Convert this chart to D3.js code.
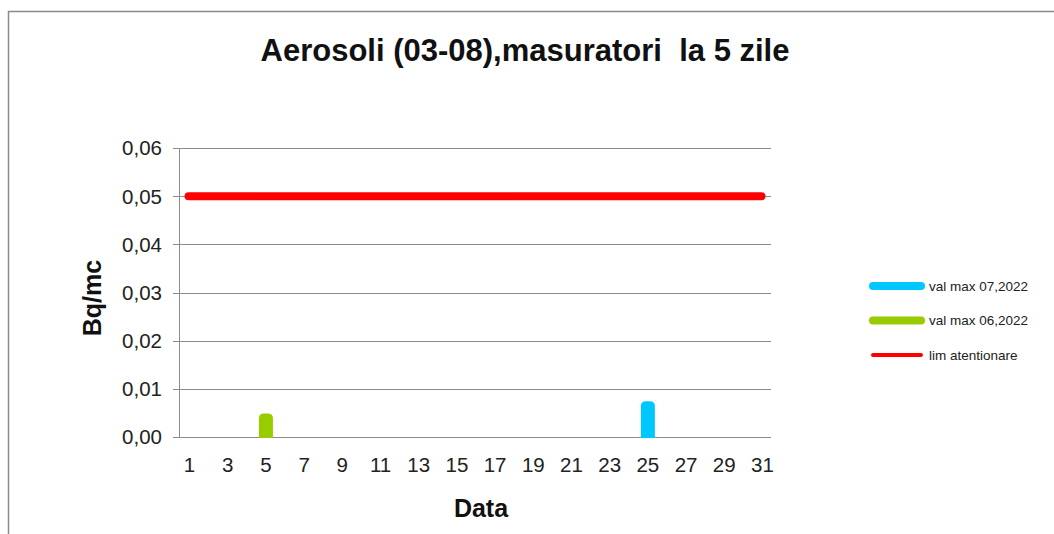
<!DOCTYPE html>
<html>
<head>
<meta charset="utf-8">
<script src="https://cdn.jsdelivr.net/npm/d3@7"></script>
<style>
  body { margin: 0; background: #fff; }
  svg { font-family: "Liberation Sans", Arial, sans-serif; }
</style>
</head>
<body>
<div id="chart"></div>
<script>
// data
const days = d3.range(1, 32);
const yTicks = [0, 0.01, 0.02, 0.03, 0.04, 0.05, 0.06];
const seriesNames = ["val max 07,2022", "val max 06,2022", "lim atentionare"];
const seriesColors = ["#00c8ff", "#99cc00", "#ff0000"];
const july = [{ day: 25, value: 0.0074 }];
const june = [{ day: 5, value: 0.0049 }];
const limit = 0.05;

const width = 1054, height = 534;
const margin = { left: 179, right: 283, top: 148, bottom: 97 };

const svg = d3.select("#chart").append("svg")
    .attr("width", width)
    .attr("height", height);

// outer chart border
svg.append("rect")
    .attr("x", 8.5).attr("y", 11.5)
    .attr("width", 1100).attr("height", 600)
    .attr("fill", "none")
    .attr("stroke", "#8a8a8a")
    .attr("stroke-width", 1.5);

let x = d3.scaleBand()
    .domain(days)
    .range([margin.left, width - margin.right]);

let y = d3.scaleLinear()
    .domain([0, 0.06])
    .range([height - margin.bottom, margin.top]);

let fmt = d => d3.format(".2f")(d).replace(".", ",");

// grid lines
svg.append("g")
    .selectAll("line")
    .data(yTicks)
    .enter()
    .append("line")
    .attr("x1", margin.left - 6)
    .attr("x2", width - margin.right)
    .attr("y1", d => Math.round(y(d)) + 0.5)
    .attr("y2", d => Math.round(y(d)) + 0.5)
    .attr("stroke", "#8c8c8c")
    .attr("stroke-width", 1);

// y axis line
svg.append("line")
    .attr("x1", margin.left + 0.5).attr("x2", margin.left + 0.5)
    .attr("y1", y(0.06)).attr("y2", y(0))
    .attr("stroke", "#8c8c8c");

// y tick labels
svg.append("g")
    .selectAll("text")
    .data(yTicks)
    .enter()
    .append("text")
    .attr("x", margin.left - 17)
    .attr("y", d => y(d))
    .attr("dy", "0.36em")
    .attr("text-anchor", "end")
    .attr("font-size", 20.5)
    .attr("fill", "#222")
    .text(fmt);

// x tick labels (every other day)
svg.append("g")
    .selectAll("text")
    .data(days.filter(d => d % 2 === 1))
    .enter()
    .append("text")
    .attr("x", d => x(d) + x.bandwidth() / 2 + 1)
    .attr("y", y(0) + 35)
    .attr("text-anchor", "middle")
    .attr("font-size", 20.5)
    .attr("fill", "#222")
    .text(d => d);

// limit line
svg.append("line")
    .attr("x1", x(1) + x.bandwidth() / 2)
    .attr("x2", x(31) + x.bandwidth() / 2)
    .attr("y1", y(limit))
    .attr("y2", y(limit))
    .attr("stroke", seriesColors[2])
    .attr("stroke-width", 8)
    .attr("stroke-linecap", "round");

// measurement bars, rounded top
let barW = 14;
function bar(d) {
    let cx = x(d.day) + x.bandwidth() / 2 + 1;
    let x0 = cx - barW / 2, x1 = cx + barW / 2;
    let top = y(d.value), bottom = y(0) + 1, r = 5;
    return "M" + x0 + "," + bottom + "L" + x0 + "," + (top + r) +
        "Q" + x0 + "," + top + " " + (x0 + r) + "," + top +
        "L" + (x1 - r) + "," + top +
        "Q" + x1 + "," + top + " " + x1 + "," + (top + r) +
        "L" + x1 + "," + bottom + "Z";
}

svg.append("g").selectAll("path")
    .data(june).enter().append("path")
    .attr("d", bar)
    .attr("fill", seriesColors[1]);

svg.append("g").selectAll("path")
    .data(july).enter().append("path")
    .attr("d", bar)
    .attr("fill", seriesColors[0]);

// title
svg.append("text")
    .attr("x", 525)
    .attr("y", 61)
    .attr("text-anchor", "middle")
    .attr("font-size", 31)
    .attr("font-weight", "bold")
    .attr("fill", "#111")
    .attr("style", "white-space: pre")
    .text("Aerosoli (03-08),masuratori  la 5 zile");

// axis titles
svg.append("text")
    .attr("transform", "translate(101,298) rotate(-90)")
    .attr("text-anchor", "middle")
    .attr("font-size", 25)
    .attr("font-weight", "bold")
    .attr("fill", "#111")
    .text("Bq/mc");

svg.append("text")
    .attr("x", 481)
    .attr("y", 517)
    .attr("text-anchor", "middle")
    .attr("font-size", 25)
    .attr("font-weight", "bold")
    .attr("fill", "#111")
    .text("Data");

// legend
let legend = svg.append("g")
    .selectAll("g")
    .data(seriesNames)
    .enter()
    .append("g")
    .attr("transform", (d, i) => "translate(873," + (286 + i * 34.5) + ")");

legend.append("line")
    .attr("x1", 0).attr("x2", 48)
    .attr("stroke", (d, i) => seriesColors[i])
    .attr("stroke-width", (d, i) => i < 2 ? 8 : 4)
    .attr("stroke-linecap", "round");

legend.append("text")
    .attr("x", 56)
    .attr("dy", "0.36em")
    .attr("font-size", 13.5)
    .attr("fill", "#222")
    .text(d => d);
</script>
</body>
</html>
